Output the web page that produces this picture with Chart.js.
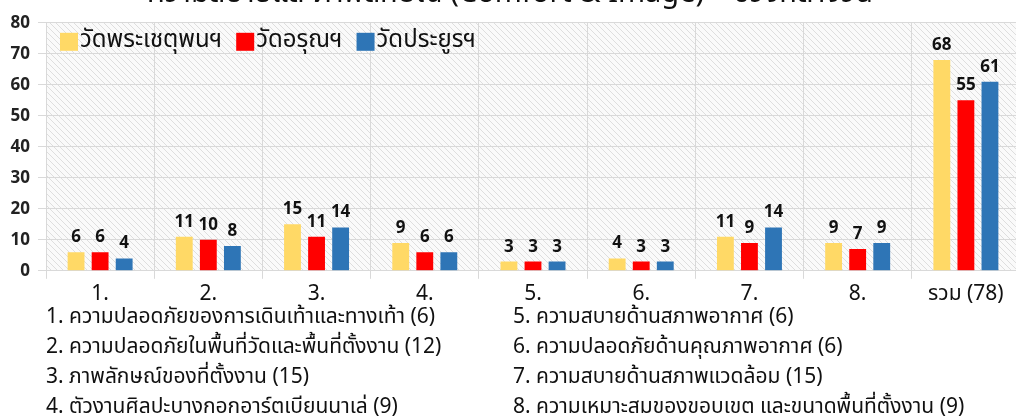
<!DOCTYPE html>
<html lang="th">
<head>
<meta charset="UTF-8">
<title>Comfort & Image</title>
<script src="https://cdn.jsdelivr.net/npm/chart.js@4"></script>
<style>
    body{
        margin: 0;
        width: 1016px;
        height: 417px;
        overflow: hidden;
        background: #fff;
        position: relative;
        font-family: "Noto Sans Thai", "Noto Sans", sans-serif;
    }
    .chart-box{
        position: absolute;
        left: 0;
        top: -21px;
        width: 1020px;
        height: 333px;
    }
    .notes{
        position: absolute;
        top: 302px;
        font-size: 21px;
        line-height: 30px;
        color: #111;
        white-space: nowrap;
    }
</style>
</head>
<body>
    <div class="chart-box"><canvas id="chart"></canvas></div>
    <div class="notes" id="notes-left" style="left:46px"></div>
    <div class="notes" id="notes-right" style="left:513px"></div>

<script>
    let titleText = 'ความสบายและภาพลักษณ์ (Comfort & Image) – ช่วงกลางวัน';
    let labels = ['1.', '2.', '3.', '4.', '5.', '6.', '7.', '8.', 'รวม (78)'];
    let seriesNames = ['วัดพระเชตุพนฯ', 'วัดอรุณฯ', 'วัดประยูรฯ'];
    let watPho = [6, 11, 15, 9, 3, 4, 11, 9, 68];
    let watArun = [6, 10, 11, 6, 3, 3, 9, 7, 55];
    let watPrayoon = [4, 8, 14, 6, 3, 3, 14, 9, 61];
    let yTicks = [0, 10, 20, 30, 40, 50, 60, 70, 80];
    let notes = [
        '1. ความปลอดภัยของการเดินเท้าและทางเท้า (6)',
        '2. ความปลอดภัยในพื้นที่วัดและพื้นที่ตั้งงาน (12)',
        '3. ภาพลักษณ์ของที่ตั้งงาน (15)',
        '4. ตัวงานศิลปะบางกอกอาร์ตเบียนนาเล่ (9)',
        '5. ความสบายด้านสภาพอากาศ (6)',
        '6. ความปลอดภัยด้านคุณภาพอากาศ (6)',
        '7. ความสบายด้านสภาพแวดล้อม (15)',
        '8. ความเหมาะสมของขอบเขต และขนาดพื้นที่ตั้งงาน (9)'
    ];

    document.getElementById('notes-left').innerHTML = notes.slice(0, 4).join('<br>');
    document.getElementById('notes-right').innerHTML = notes.slice(4).join('<br>');

    let thaiFont = '"Noto Sans Thai", "Noto Sans", sans-serif';

    // hatched background of the plot area
    let hatch = document.createElement('canvas');
    hatch.width = 6;
    hatch.height = 6;
    let hc = hatch.getContext('2d');
    hc.fillStyle = '#fafafa';
    hc.fillRect(0, 0, 6, 6);
    hc.strokeStyle = '#dedede';
    hc.lineWidth = 1;
    hc.beginPath();
    hc.moveTo(-1, -1); hc.lineTo(7, 7);
    hc.moveTo(-1, 5); hc.lineTo(1, 7);
    hc.moveTo(5, -1); hc.lineTo(7, 1);
    hc.stroke();

    const hatchPlugin = {
        id: 'hatchBg',
        beforeDraw(chart){
            let a = chart.chartArea;
            let ctx = chart.ctx;
            ctx.save();
            ctx.fillStyle = ctx.createPattern(hatch, 'repeat');
            ctx.fillRect(a.left, a.top, a.right - a.left, a.bottom - a.top);
            ctx.restore();
        }
    };

    // legend row inside the plot, top left
    const innerLegend = {
        id: 'innerLegend',
        afterDatasetsDraw(chart){
            let ctx = chart.ctx;
            let a = chart.chartArea;
            let x = a.left + 14;
            let y = a.top + 10;
            ctx.save();
            ctx.font = '24px ' + thaiFont;
            ctx.textBaseline = 'middle';
            ctx.textAlign = 'left';
            chart.data.datasets.forEach(ds => {
                ctx.fillStyle = ds.backgroundColor;
                ctx.fillRect(x, y, 18, 18);
                ctx.fillStyle = '#111';
                ctx.fillText(ds.label, x + 20, y + 9);
                x += 20 + ctx.measureText(ds.label).width + 14;
            });
            ctx.restore();
        }
    };

    const valueLabels = {
        id: 'valueLabels',
        afterDatasetsDraw(chart){
            let ctx = chart.ctx;
            ctx.save();
            ctx.font = 'bold 17px "Open Sans", sans-serif';
            ctx.fillStyle = '#111';
            ctx.textAlign = 'center';
            ctx.textBaseline = 'alphabetic';
            chart.data.datasets.forEach((ds, i) => {
                chart.getDatasetMeta(i).data.forEach((bar, j) => {
                    ctx.fillText(ds.data[j], bar.x, bar.y - 10);
                });
            });
            ctx.restore();
        }
    };

    new Chart(document.getElementById('chart'), {
        type: 'bar',
        data: {
            labels: labels,
            datasets: [
                { label: seriesNames[0], data: watPho, backgroundColor: '#FFD966' },
                { label: seriesNames[1], data: watArun, backgroundColor: '#FF0000' },
                { label: seriesNames[2], data: watPrayoon, backgroundColor: '#2E75B6' }
            ]
        },
        options: {
            responsive: true,
            maintainAspectRatio: false,
            animation: false,
            layout: { padding: 0 },
            datasets: {
                bar: { categoryPercentage: 0.667, barPercentage: 0.7 }
            },
            scales: {
                x: {
                    grid: { color: '#d9d9d9', offset: true },
                    border: { color: '#d9d9d9' },
                    ticks: {
                        color: '#111',
                        padding: 4,
                        font: { family: thaiFont, size: 21 }
                    }
                },
                y: {
                    min: 0,
                    max: 80,
                    afterFit(scale){ scale.width = 46; },
                    afterBuildTicks(scale){ scale.ticks = yTicks.map(v => ({ value: v })); },
                    grid: { color: '#d9d9d9' },
                    border: { color: '#d9d9d9' },
                    ticks: {
                        color: '#222',
                        padding: 8,
                        font: { family: '"Open Sans", sans-serif', size: 17, weight: 'bold' }
                    }
                }
            },
            plugins: {
                title: {
                    display: true,
                    text: titleText,
                    color: '#111',
                    padding: { top: 0, bottom: 9 },
                    font: { family: thaiFont, size: 29, weight: 'normal' }
                },
                legend: { display: false },
                tooltip: { enabled: false }
            }
        },
        plugins: [hatchPlugin, innerLegend, valueLabels]
    });
</script>
</body>
</html>
